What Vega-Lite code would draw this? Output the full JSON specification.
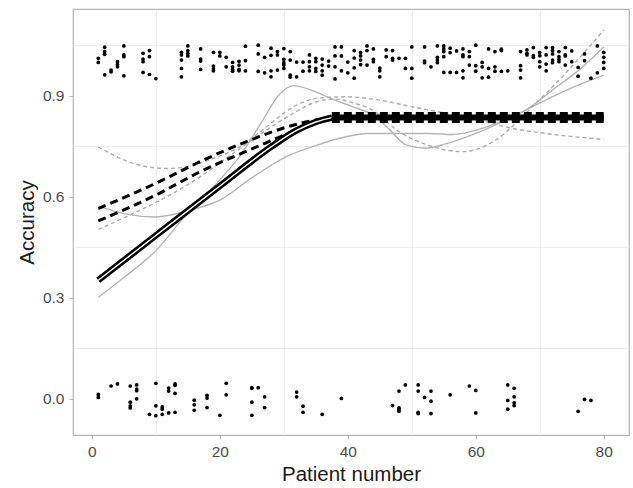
{
"$schema": "https://vega.github.io/schema/vega-lite/v6.json",
"width": 556, "height": 426,
"autosize": {"type": "none"},
"padding": {"left": 73, "top": 9, "right": 4, "bottom": 53},
"background": "white",
"config": {
 "view": {"stroke": "#b3b3b3", "strokeWidth": 1.2},
 "font": "Liberation Sans",
 "axis": {"domain": false, "labelFont": "Liberation Sans", "titleFont": "Liberation Sans", "labelFontSize": 15.5, "labelColor": "#4d4d4d", "titleFontSize": 20.5, "titleFontWeight": "normal", "titleColor": "#1a1a1a", "tickColor": "#b3b3b3", "tickSize": 4, "labelPadding": 5, "titlePadding": 5, "gridColor": "#dedede", "gridWidth": 1.2}
},
"datasets": {
 "pts": [
  {"x":1,"y":1.011},{"x":1,"y":0.999},
  {"x":2,"y":1.044},{"x":2,"y":1.031},{"x":2,"y":1.023},{"x":2,"y":0.962},
  {"x":3,"y":0.971},{"x":3,"y":0.976},
  {"x":4,"y":1.001},{"x":4,"y":0.993},{"x":4,"y":0.986},
  {"x":5,"y":1.048},{"x":5,"y":1.021},{"x":5,"y":1.016},{"x":5,"y":0.959},
  {"x":8,"y":1.026},{"x":8,"y":1.009},{"x":8,"y":1.001},{"x":8,"y":0.969},
  {"x":9,"y":1.034},{"x":9,"y":1.016},{"x":9,"y":0.963},
  {"x":10,"y":0.951},
  {"x":14,"y":1.029},{"x":14,"y":1.021},{"x":14,"y":1.006},{"x":14,"y":0.981},{"x":14,"y":0.956},
  {"x":15,"y":1.048},{"x":15,"y":1.034},{"x":15,"y":1.026},{"x":15,"y":1.018},
  {"x":17,"y":1.039},{"x":17,"y":1.009},{"x":17,"y":1.003},{"x":17,"y":0.978},
  {"x":19,"y":1.029},{"x":19,"y":0.988},{"x":19,"y":0.980},{"x":19,"y":0.974},
  {"x":20,"y":1.029},{"x":20,"y":1.018},
  {"x":21,"y":1.014},{"x":21,"y":0.986},
  {"x":22,"y":0.999},{"x":22,"y":0.986},{"x":22,"y":0.978},{"x":22,"y":0.973},
  {"x":23,"y":1.002},{"x":23,"y":0.991},{"x":23,"y":0.978},{"x":23,"y":0.974},
  {"x":24,"y":1.047},{"x":24,"y":1.004},{"x":24,"y":0.974},
  {"x":26,"y":1.050},{"x":26,"y":1.024},{"x":26,"y":0.972},
  {"x":27,"y":1.014},{"x":27,"y":0.968},
  {"x":28,"y":1.041},{"x":28,"y":1.020},{"x":28,"y":0.974},{"x":28,"y":0.956},
  {"x":29,"y":1.031},{"x":29,"y":1.021},{"x":29,"y":0.976},
  {"x":30,"y":1.040},{"x":30,"y":1.008},{"x":30,"y":0.998},{"x":30,"y":0.991},{"x":30,"y":0.981},
  {"x":31,"y":1.031},{"x":31,"y":1.006},{"x":31,"y":0.961},{"x":31,"y":0.955},
  {"x":32,"y":1.000},{"x":32,"y":0.956},
  {"x":33,"y":1.000},{"x":33,"y":0.973},
  {"x":34,"y":1.021},{"x":34,"y":1.001},{"x":34,"y":0.986},{"x":34,"y":0.974},
  {"x":35,"y":1.011},{"x":35,"y":1.001},{"x":35,"y":0.981},{"x":35,"y":0.972},
  {"x":36,"y":1.009},{"x":36,"y":0.991},{"x":36,"y":0.974},{"x":36,"y":0.961},
  {"x":37,"y":1.003},{"x":37,"y":0.988},
  {"x":38,"y":1.045},{"x":38,"y":1.018},{"x":38,"y":0.986},{"x":38,"y":0.950},
  {"x":39,"y":1.045},{"x":39,"y":1.018},{"x":39,"y":0.974},
  {"x":40,"y":1.000},{"x":40,"y":0.968},
  {"x":41,"y":1.034},{"x":41,"y":1.012},{"x":41,"y":0.983},{"x":41,"y":0.952},
  {"x":42,"y":1.028},{"x":42,"y":1.018},{"x":42,"y":1.006},{"x":42,"y":0.992},
  {"x":43,"y":1.048},{"x":43,"y":1.034},{"x":43,"y":0.991},
  {"x":44,"y":1.039},{"x":44,"y":1.008},{"x":44,"y":1.001},
  {"x":45,"y":0.982},{"x":45,"y":0.974},{"x":45,"y":0.956},
  {"x":46,"y":1.036},{"x":46,"y":1.016},
  {"x":47,"y":1.034},{"x":47,"y":1.011},{"x":47,"y":1.006},
  {"x":48,"y":1.011},
  {"x":49,"y":1.011},{"x":49,"y":0.981},
  {"x":50,"y":1.045},{"x":50,"y":0.981},{"x":50,"y":0.952},
  {"x":52,"y":1.045},{"x":52,"y":1.003},{"x":52,"y":0.998},
  {"x":53,"y":0.986},
  {"x":54,"y":1.048},{"x":54,"y":1.014},{"x":54,"y":1.006},{"x":54,"y":0.998},
  {"x":55,"y":1.048},{"x":55,"y":1.039},{"x":55,"y":1.031},{"x":55,"y":1.016},{"x":55,"y":0.969},
  {"x":56,"y":1.041},{"x":56,"y":1.028},{"x":56,"y":0.969},
  {"x":57,"y":1.033},{"x":57,"y":0.969},
  {"x":58,"y":1.039},{"x":58,"y":1.021},{"x":58,"y":1.016},{"x":58,"y":0.974},{"x":58,"y":0.953},
  {"x":59,"y":1.031},{"x":59,"y":1.016},{"x":59,"y":0.991},
  {"x":60,"y":1.050},{"x":60,"y":0.989},{"x":60,"y":0.973},
  {"x":61,"y":0.999},{"x":61,"y":0.986},{"x":61,"y":0.953},
  {"x":62,"y":1.039},{"x":62,"y":0.981},{"x":62,"y":0.955},
  {"x":63,"y":1.031},{"x":63,"y":0.986},{"x":63,"y":0.973},
  {"x":64,"y":1.038},{"x":64,"y":1.034},{"x":64,"y":0.972},
  {"x":65,"y":0.974},
  {"x":67,"y":1.031},{"x":67,"y":0.989},{"x":67,"y":0.976},{"x":67,"y":0.953},
  {"x":68,"y":1.036},{"x":68,"y":1.026},{"x":68,"y":1.021},
  {"x":69,"y":1.043},{"x":69,"y":1.019},{"x":69,"y":1.014},
  {"x":70,"y":1.028},{"x":70,"y":1.019},{"x":70,"y":1.001},{"x":70,"y":0.986},
  {"x":71,"y":1.043},{"x":71,"y":1.021},{"x":71,"y":0.994},{"x":71,"y":0.974},
  {"x":72,"y":1.043},{"x":72,"y":1.034},{"x":72,"y":1.024},{"x":72,"y":1.006},{"x":72,"y":0.998},
  {"x":73,"y":1.031},{"x":73,"y":1.016},{"x":73,"y":1.008},{"x":73,"y":1.001},
  {"x":74,"y":1.043},{"x":74,"y":1.021},{"x":74,"y":1.018},{"x":74,"y":0.991},
  {"x":75,"y":1.033},{"x":75,"y":1.001},
  {"x":76,"y":0.984},{"x":76,"y":0.958},
  {"x":77,"y":1.024},{"x":77,"y":1.004},
  {"x":78,"y":0.952},
  {"x":79,"y":1.048},{"x":79,"y":0.968},
  {"x":80,"y":1.029},{"x":80,"y":1.014},{"x":80,"y":0.999},{"x":80,"y":0.981},
  {"x":1,"y":0.013},{"x":1,"y":0.004},
  {"x":3,"y":0.038},{"x":4,"y":0.044},
  {"x":6,"y":0.038},{"x":6,"y":-0.010},{"x":6,"y":-0.021},{"x":6,"y":-0.027},
  {"x":7,"y":0.041},{"x":7,"y":0.029},{"x":7,"y":0.024},{"x":7,"y":0.0},
  {"x":9,"y":-0.046},
  {"x":10,"y":0.046},{"x":10,"y":-0.021},{"x":10,"y":-0.050},
  {"x":11,"y":-0.024},{"x":11,"y":-0.031},{"x":11,"y":-0.046},
  {"x":12,"y":0.032},{"x":12,"y":0.023},{"x":12,"y":-0.042},
  {"x":13,"y":0.044},{"x":13,"y":0.040},{"x":13,"y":0.016},{"x":13,"y":-0.040},
  {"x":16,"y":-0.004},{"x":16,"y":-0.018},{"x":16,"y":-0.034},
  {"x":18,"y":0.010},{"x":18,"y":0.002},{"x":18,"y":-0.026},
  {"x":20,"y":-0.049},
  {"x":21,"y":0.046},{"x":21,"y":0.012},
  {"x":25,"y":0.033},{"x":25,"y":0.031},{"x":25,"y":-0.010},{"x":25,"y":-0.049},
  {"x":26,"y":0.033},
  {"x":27,"y":0.006},{"x":27,"y":-0.026},
  {"x":32,"y":0.020},{"x":32,"y":0.006},
  {"x":33,"y":-0.022},{"x":33,"y":-0.040},
  {"x":36,"y":-0.046},
  {"x":39,"y":0.001},
  {"x":47,"y":-0.020},
  {"x":48,"y":0.023},{"x":48,"y":-0.027},{"x":48,"y":-0.031},{"x":48,"y":-0.037},
  {"x":49,"y":0.041},
  {"x":51,"y":0.041},{"x":51,"y":0.023},{"x":51,"y":-0.040},{"x":51,"y":-0.044},
  {"x":52,"y":0.004},
  {"x":53,"y":0.023},{"x":53,"y":-0.007},{"x":53,"y":-0.044},
  {"x":56,"y":0.012},
  {"x":59,"y":0.038},
  {"x":60,"y":0.025},{"x":60,"y":-0.042},
  {"x":65,"y":0.041},{"x":65,"y":-0.005},{"x":65,"y":-0.031},
  {"x":66,"y":0.031},{"x":66,"y":0.006},{"x":66,"y":-0.012},{"x":66,"y":-0.020},
  {"x":76,"y":-0.037},{"x":77,"y":-0.002},{"x":78,"y":-0.005}
 ],
 "lines": [
  {"s":"A","x":1,"y":0.301},{"s":"A","x":5,"y":0.36},{"s":"A","x":10,"y":0.44},{"s":"A","x":15,"y":0.553},{"s":"A","x":20,"y":0.65},{"s":"A","x":23.1,"y":0.72},{"s":"A","x":26.8,"y":0.83},{"s":"A","x":29,"y":0.897},{"s":"A","x":31.5,"y":0.93},{"s":"A","x":34.5,"y":0.915},{"s":"A","x":37.6,"y":0.89},{"s":"A","x":40.8,"y":0.867},{"s":"A","x":43.9,"y":0.843},{"s":"A","x":46.5,"y":0.8},{"s":"A","x":49.1,"y":0.754},{"s":"A","x":52.2,"y":0.744},{"s":"A","x":55.3,"y":0.757},{"s":"A","x":60,"y":0.788},{"s":"A","x":63.6,"y":0.818},{"s":"A","x":67.8,"y":0.857},{"s":"A","x":72,"y":0.917},{"s":"A","x":76.1,"y":0.976},{"s":"A","x":80,"y":1.045},
  {"s":"B","x":1,"y":0.572},{"s":"B","x":5,"y":0.55},{"s":"B","x":10,"y":0.54},{"s":"B","x":15.3,"y":0.56},{"s":"B","x":20,"y":0.59},{"s":"B","x":25.2,"y":0.659},{"s":"B","x":30.4,"y":0.719},{"s":"B","x":35,"y":0.752},{"s":"B","x":39.7,"y":0.778},{"s":"B","x":43,"y":0.788},{"s":"B","x":52.7,"y":0.788},{"s":"B","x":56.4,"y":0.785},{"s":"B","x":60.5,"y":0.8},{"s":"B","x":65.7,"y":0.838},{"s":"B","x":69.9,"y":0.877},{"s":"B","x":74,"y":0.915},{"s":"B","x":80,"y":0.961},
  {"s":"C","x":1,"y":0.748},{"s":"C","x":6.5,"y":0.699},{"s":"C","x":11.7,"y":0.684},{"s":"C","x":14.8,"y":0.689},{"s":"C","x":19,"y":0.714},{"s":"C","x":23.1,"y":0.748},{"s":"C","x":27.3,"y":0.808},{"s":"C","x":31.5,"y":0.867},{"s":"C","x":35.1,"y":0.892},{"s":"C","x":39.7,"y":0.897},{"s":"C","x":44.9,"y":0.887},{"s":"C","x":50.1,"y":0.867},{"s":"C","x":55.3,"y":0.848},{"s":"C","x":60.5,"y":0.828},{"s":"C","x":65.7,"y":0.803},{"s":"C","x":70.9,"y":0.788},{"s":"C","x":80,"y":0.77},
  {"s":"D","x":1,"y":0.503},{"s":"D","x":6.5,"y":0.551},{"s":"D","x":11.7,"y":0.6},{"s":"D","x":16.9,"y":0.659},{"s":"D","x":22.1,"y":0.729},{"s":"D","x":27.3,"y":0.798},{"s":"D","x":31.5,"y":0.848},{"s":"D","x":35.1,"y":0.882},{"s":"D","x":38,"y":0.89},{"s":"D","x":41,"y":0.878},{"s":"D","x":43.9,"y":0.857},{"s":"D","x":47.5,"y":0.8},{"s":"D","x":52.7,"y":0.752},{"s":"D","x":57.9,"y":0.734},{"s":"D","x":63.1,"y":0.768},{"s":"D","x":68.3,"y":0.857},{"s":"D","x":73.5,"y":0.956},{"s":"D","x":80,"y":1.095},
  {"s":"E","x":1,"y":0.565},{"s":"E","x":10,"y":0.64},{"s":"E","x":17,"y":0.705},{"s":"E","x":25,"y":0.77},{"s":"E","x":31,"y":0.81},{"s":"E","x":35,"y":0.828},{"s":"E","x":38,"y":0.835},
  {"s":"F","x":1,"y":0.528},{"s":"F","x":10,"y":0.605},{"s":"F","x":17,"y":0.675},{"s":"F","x":25,"y":0.742},{"s":"F","x":31,"y":0.79},{"s":"F","x":35,"y":0.82},{"s":"F","x":38,"y":0.835},
  {"s":"G","x":1,"y":0.352},{"s":"G","x":10,"y":0.485},{"s":"G","x":20,"y":0.632},{"s":"G","x":28,"y":0.748},{"s":"G","x":32,"y":0.797},{"s":"G","x":35,"y":0.822},{"s":"G","x":37.5,"y":0.835},
  {"s":"H","x":37.5,"y":0.835},{"s":"H","x":80,"y":0.835}
 ]
},
"layer": [
 {
  "data": {"name": "lines"},
  "transform": [{"filter": "datum.s === 'A' || datum.s === 'B'"}],
  "mark": {"type": "line", "color": "#b4b4b4", "strokeWidth": 1.4, "interpolate": "monotone"},
  "encoding": {
   "x": {"field": "x", "type": "quantitative", "scale": {"domain": [-2.95, 83.95], "nice": false, "zero": false}, "axis": {"orient": "bottom", "values": [10, 30, 50, 70], "labels": false, "ticks": false, "title": null, "gridColor": "#ebebeb", "gridWidth": 0.9}},
   "y": {"field": "y", "type": "quantitative", "scale": {"domain": [-0.1075, 1.1575], "nice": false, "zero": false}, "axis": {"orient": "left", "values": [0.15, 0.45, 0.75, 1.05], "labels": false, "ticks": false, "title": null, "gridColor": "#ebebeb", "gridWidth": 0.9}},
   "detail": {"field": "s"}
  }
 },
 {
  "data": {"name": "lines"},
  "transform": [{"filter": "datum.s === 'C' || datum.s === 'D'"}],
  "mark": {"type": "line", "color": "#ababab", "strokeWidth": 1.4, "strokeDash": [4, 3], "interpolate": "monotone"},
  "encoding": {
   "x": {"field": "x", "type": "quantitative", "axis": null},
   "y": {"field": "y", "type": "quantitative", "axis": null},
   "detail": {"field": "s"}
  }
 },
 {
  "data": {"name": "lines"},
  "transform": [{"filter": "datum.s === 'E' || datum.s === 'F'"}],
  "mark": {"type": "line", "color": "#000000", "strokeWidth": 3, "strokeDash": [8, 5], "interpolate": "monotone"},
  "encoding": {
   "x": {"field": "x", "type": "quantitative", "axis": null},
   "y": {"field": "y", "type": "quantitative", "axis": null},
   "detail": {"field": "s"}
  }
 },
 {
  "data": {"name": "lines"},
  "transform": [{"filter": "datum.s === 'G'"}],
  "mark": {"type": "line", "color": "#000000", "strokeWidth": 6.5, "interpolate": "monotone"},
  "encoding": {
   "x": {"field": "x", "type": "quantitative", "axis": null},
   "y": {"field": "y", "type": "quantitative", "axis": null}
  }
 },
 {
  "data": {"name": "lines"},
  "transform": [{"filter": "datum.s === 'G'"}],
  "mark": {"type": "line", "color": "#ffffff", "strokeWidth": 1.4, "interpolate": "monotone"},
  "encoding": {
   "x": {"field": "x", "type": "quantitative", "axis": null},
   "y": {"field": "y", "type": "quantitative", "axis": null}
  }
 },
 {
  "data": {"name": "lines"},
  "transform": [{"filter": "datum.s === 'H'"}],
  "mark": {"type": "line", "color": "#000000", "strokeWidth": 6},
  "encoding": {
   "x": {"field": "x", "type": "quantitative", "axis": null},
   "y": {"field": "y", "type": "quantitative", "axis": null}
  }
 },
 {
  "data": {"name": "lines"},
  "transform": [{"filter": "datum.s === 'H'"}],
  "mark": {"type": "line", "color": "#000000", "strokeWidth": 11, "strokeDash": [8, 4]},
  "encoding": {
   "x": {"field": "x", "type": "quantitative", "axis": null},
   "y": {"field": "y", "type": "quantitative", "axis": null}
  }
 },
 {
  "data": {"name": "pts"},
  "mark": {"type": "circle", "color": "#000000", "size": 14, "opacity": 1},
  "encoding": {
   "x": {"field": "x", "type": "quantitative", "axis": {"orient": "bottom", "values": [0, 20, 40, 60, 80], "title": "Patient number"}},
   "y": {"field": "y", "type": "quantitative", "axis": {"orient": "left", "values": [0, 0.3, 0.6, 0.9], "format": ".1f", "title": "Accuracy"}}
  }
 }
],
"resolve": {"axis": {"x": "independent", "y": "independent"}}
}
